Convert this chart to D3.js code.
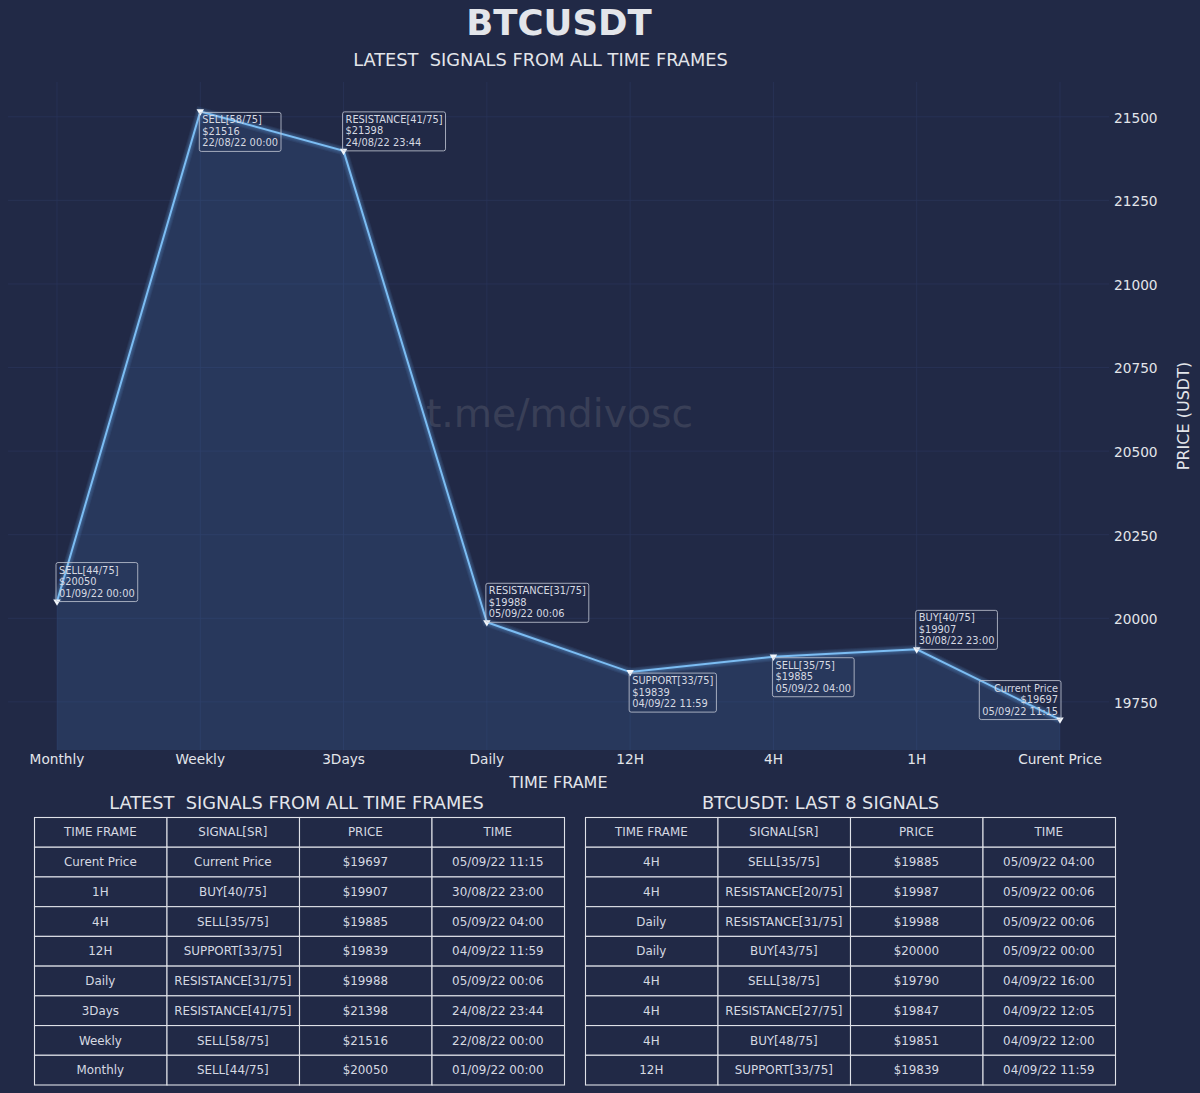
<!DOCTYPE html>
<html>
<head>
<meta charset="utf-8">
<script src="https://d3js.org/d3.v7.min.js"></script>
<style>
  html, body { margin: 0; padding: 0; background: #212946; }
  svg { display: block; }
  text { font-family: "DejaVu Sans", sans-serif; fill: #e3e5ea; }
</style>
</head>
<body>
<svg id="chart" width="1200" height="1093"></svg>
<script>
// chart values
var frames = ["Monthly", "Weekly", "3Days", "Daily", "12H", "4H", "1H", "Curent Price"];
var prices = [20050, 21516, 21398, 19988, 19839, 19885, 19907, 19697];
var signals = ["SELL[44/75]", "SELL[58/75]", "RESISTANCE[41/75]", "RESISTANCE[31/75]", "SUPPORT[33/75]", "SELL[35/75]", "BUY[40/75]", "Current Price"];
var times = ["01/09/22 00:00", "22/08/22 00:00", "24/08/22 23:44", "05/09/22 00:06", "04/09/22 11:59", "05/09/22 04:00", "30/08/22 23:00", "05/09/22 11:15"];
var yTicks = [19750, 20000, 20250, 20500, 20750, 21000, 21250, 21500];

var tableHead = ["TIME FRAME", "SIGNAL[SR]", "PRICE", "TIME"];

var lastFrames = ["4H", "4H", "Daily", "Daily", "4H", "4H", "4H", "12H"];
var lastSignals = ["SELL[35/75]", "RESISTANCE[20/75]", "RESISTANCE[31/75]", "BUY[43/75]", "SELL[38/75]", "RESISTANCE[27/75]", "BUY[48/75]", "SUPPORT[33/75]"];
var lastPrices = [19885, 19987, 19988, 20000, 19790, 19847, 19851, 19839];
var lastTimes = ["05/09/22 04:00", "05/09/22 00:06", "05/09/22 00:06", "05/09/22 00:00", "04/09/22 16:00", "04/09/22 12:05", "04/09/22 12:00", "04/09/22 11:59"];

var svg = d3.select("#chart");
var left = 8, right = 1109, top_ = 82, bottom = 750;

var x = d3.scalePoint().domain(frames).range([57, 1060]);
var y = d3.scaleLinear().domain([19606, 21604]).range([bottom, top_]);

// grid
svg.append("g").selectAll("line").data(yTicks).enter().append("line")
  .attr("x1", left).attr("x2", right)
  .attr("y1", function (d) { return y(d); }).attr("y2", function (d) { return y(d); })
  .attr("stroke", "#2A3459").attr("stroke-opacity", 0.75).attr("stroke-width", 1);
svg.append("g").selectAll("line").data(frames).enter().append("line")
  .attr("x1", function (d) { return x(d); }).attr("x2", function (d) { return x(d); })
  .attr("y1", top_).attr("y2", bottom)
  .attr("stroke", "#2A3459").attr("stroke-opacity", 0.75).attr("stroke-width", 1);

// watermark
svg.append("text").attr("x", 559.5).attr("y", 426.5).attr("text-anchor", "middle")
  .style("font-size", "39.3px").style("fill", "#8d8f94").style("opacity", 0.22)
  .text("t.me/mdivosc");

// area and glowing line
var points = frames.map(function (f, i) { return [x(f), y(prices[i])]; });
var area = d3.area().x(function (d) { return d[0]; }).y0(bottom).y1(function (d) { return d[1]; });
var line = d3.line();

svg.append("path").attr("d", area(points)).attr("fill", "#4a7fc0").attr("fill-opacity", 0.18);

[9, 7, 5, 3.5].forEach(function (w) {
  svg.append("path").attr("d", line(points)).attr("fill", "none")
    .attr("stroke", "#6db6f2").attr("stroke-opacity", 0.09).attr("stroke-width", w);
});
svg.append("path").attr("d", line(points)).attr("fill", "none")
  .attr("stroke", "#7cbdf3").attr("stroke-width", 2);

// markers
var tri = d3.symbol().type(d3.symbolTriangle).size(24);
svg.append("g").selectAll("path").data(points).enter().append("path")
  .attr("d", tri)
  .attr("transform", function (d) { return "translate(" + d[0] + "," + d[1] + ") rotate(180)"; })
  .attr("fill", "#f2f6fb");

// annotations, below the point when the next one is lower
var below = { "Weekly": true, "12H": true, "4H": true };
frames.forEach(function (f, i) {
  var g = svg.append("g");
  var px = x(f), py = y(prices[i]);
  var lastOne = i === frames.length - 1;
  var rows = [signals[i], "$" + prices[i], times[i]];
  var boxH = 39, lh = 11.5;
  var topY = below[f] ? py + 1 : py - boxH;

  var t = g.selectAll("text").data(rows).enter().append("text")
    .attr("y", function (d, k) { return topY + 11 + k * lh; })
    .attr("x", lastOne ? px - 2 : px + 2)
    .attr("text-anchor", lastOne ? "end" : "start")
    .style("font-size", "9.85px").style("fill", "#d6d9e2")
    .text(function (d) { return d; });

  var w = d3.max(t.nodes(), function (n) { return n.getComputedTextLength(); }) + 4;
  g.insert("rect", "text")
    .attr("x", lastOne ? px - w - 1 : px - 1).attr("y", topY)
    .attr("width", w + 2).attr("height", boxH).attr("rx", 2)
    .attr("fill", "none").attr("stroke", "#c4c9d6").attr("stroke-opacity", 0.8).attr("stroke-width", 1);
});

// axes
var xAxis = svg.append("g").attr("transform", "translate(-0.5," + bottom + ")")
  .call(d3.axisBottom(x).tickSize(0).tickPadding(4));
var yAxis = svg.append("g").attr("transform", "translate(1109,0)")
  .call(d3.axisRight(y).tickValues(yTicks).tickSize(0).tickPadding(5).tickFormat(d3.format("d")));
[xAxis, yAxis].forEach(function (a) {
  a.select(".domain").remove();
  a.selectAll("text").style("font-size", "13.7px").style("font-family", "DejaVu Sans, sans-serif").attr("fill", "#e3e5ea");
});
yAxis.selectAll("text").attr("dy", "0.39em");

// titles
svg.append("text").attr("x", 559).attr("y", 35).attr("text-anchor", "middle")
  .style("font-size", "35.5px").style("font-weight", "bold").text("BTCUSDT");
svg.append("text").attr("x", 540.5).attr("y", 66).attr("text-anchor", "middle")
  .style("font-size", "17.8px").text("LATEST  SIGNALS FROM ALL TIME FRAMES").attr("xml:space", "preserve");
svg.append("text").attr("x", 558.5).attr("y", 788).attr("text-anchor", "middle")
  .style("font-size", "16px").text("TIME FRAME");
svg.append("text").attr("transform", "translate(1189,416) rotate(-90)").attr("text-anchor", "middle")
  .style("font-size", "16px").text("PRICE (USDT)");

// tables
function drawTable(title, titleX, x0, c1, c2, c3, c4) {
  var rows = c1.map(function (d, i) { return [d, c2[i], "$" + c3[i], c4[i]]; });
  rows.unshift(tableHead);
  var colX = d3.scaleBand().domain(d3.range(4)).range([x0, x0 + 530]);
  var rowY = d3.scaleBand().domain(d3.range(rows.length)).range([817.5, 1085]);
  var g = svg.append("g");

  g.append("text").attr("x", titleX).attr("y", 809).attr("text-anchor", "middle")
    .attr("xml:space", "preserve").style("font-size", "17.8px").text(title);

  rows.forEach(function (row, r) {
    row.forEach(function (cell, c) {
      g.append("rect")
        .attr("x", colX(c)).attr("y", rowY(r))
        .attr("width", colX.bandwidth()).attr("height", rowY.bandwidth())
        .attr("fill", "#212946").attr("stroke", "#dfe1e8").attr("stroke-width", 1.1);
      g.append("text")
        .attr("x", colX(c) + colX.bandwidth() / 2 - 0.4)
        .attr("y", rowY(r) + rowY.bandwidth() / 2 + 4.1)
        .attr("text-anchor", "middle")
        .style("font-size", "11.9px").style("fill", "#d6d9e2")
        .text(cell);
    });
  });
}

var rev = function (a) { return a.slice().reverse(); };
drawTable("LATEST  SIGNALS FROM ALL TIME FRAMES", 296.5, 34.5, rev(frames), rev(signals), rev(prices), rev(times));
drawTable("BTCUSDT: LAST 8 SIGNALS", 820.5, 585.5, lastFrames, lastSignals, lastPrices, lastTimes);
</script>
</body>
</html>
